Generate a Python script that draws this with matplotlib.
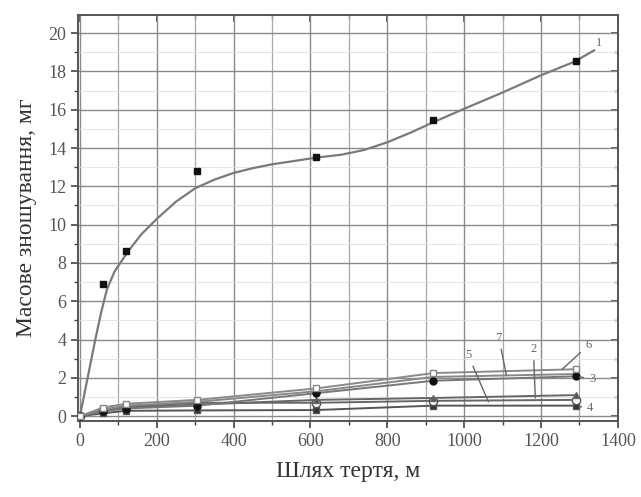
import matplotlib
matplotlib.use("Agg")
import matplotlib.pyplot as plt
from matplotlib.ticker import MultipleLocator

plt.rcParams['font.family'] = ['Liberation Serif', 'DejaVu Serif']

# measured points (mileage, m)
x_pts = [0, 60, 120, 305, 615, 920, 1290]
# series 1 measured points
s1_x = [60, 120, 305, 615, 920, 1290]
s1_y = [6.9, 8.6, 12.8, 13.55, 15.45, 18.55]
# series 1 fitted curve
fit1_x = [0, 20, 40, 55, 70, 90, 125, 160, 200, 250, 300, 350, 400, 450, 500, 550,
          615, 680, 740, 800, 860, 920, 1000, 1100, 1200, 1286, 1338]
fit1_y = [0, 2.0, 4.0, 5.4, 6.6, 7.55, 8.6, 9.5, 10.3, 11.2, 11.9, 12.35, 12.7, 12.95, 13.15, 13.3,
          13.5, 13.65, 13.9, 14.3, 14.8, 15.35, 16.05, 16.9, 17.8, 18.5, 19.1]

# low-wear series 2..7
s2 = [0, 0.30, 0.45, 0.60, 0.85, 0.95, 1.10]
s3 = [0, 0.25, 0.40, 0.55, 1.20, 1.85, 2.08]
s4 = [0, 0.15, 0.28, 0.30, 0.32, 0.55, 0.55]
s5 = [0, 0.30, 0.50, 0.70, 0.70, 0.80, 0.85]
s6 = [0, 0.45, 0.65, 0.85, 1.45, 2.25, 2.45]
s7 = [0, 0.35, 0.55, 0.75, 1.30, 2.05, 2.20]

labels = ['1', '2', '3', '4', '5', '6', '7']

fig = plt.figure(figsize=(6.41, 4.97), dpi=100)
ax = fig.add_axes([0.1217, 0.153, 0.8423, 0.817])

ax.set_xlim(-5, 1400)
ax.set_ylim(-0.25, 20.95)
ax.xaxis.set_major_locator(MultipleLocator(200))
ax.xaxis.set_minor_locator(MultipleLocator(100))
ax.yaxis.set_major_locator(MultipleLocator(2))
ax.yaxis.set_minor_locator(MultipleLocator(1))
ax.grid(which='major', color='#8a8a8a', lw=1.0)
ax.grid(which='minor', axis='x', color='#a8a8a8', lw=0.9)
ax.grid(which='minor', axis='y', color='#e0e0e0', lw=0.6)
ax.set_axisbelow(True)

lc = '#7a7a7a'
ax.plot(fit1_x, fit1_y, color=lc, lw=1.6, zorder=3, solid_joinstyle='round')
ax.plot(s1_x, s1_y, 's', color='#111111', ms=5, zorder=4)

ax.plot(x_pts, s4, '-s', color='#555555', lw=1.4, ms=4.5, mfc='#333333', zorder=3)
ax.plot(x_pts, s5, '-o', color='#666666', lw=1.4, ms=6, mfc='white', mec='#555555', zorder=3)
ax.plot(x_pts, s2, '-^', color='#666666', lw=1.4, ms=4, mfc='#555555', zorder=3)
ax.plot(x_pts, s7, '-v', color='#888888', lw=1.4, ms=4, mfc='#444444', zorder=3)
ax.plot(x_pts, s3, '-o', color='#777777', lw=1.4, ms=5, mfc='#111111', mec='#111111', zorder=3)
ax.plot(x_pts, s6, '-s', color='#8a8a8a', lw=1.4, ms=5, mfc='white', mec='#888888', zorder=3)

# curve labels with leader lines
ax.text(1343, 19.5, labels[0], fontsize=9, color='#666666', ha='left', va='center')
ann = dict(arrowstyle='-', color='#666666', lw=1.0, shrinkA=2, shrinkB=0)
ax.annotate(labels[1], xy=(1185, 0.95), xytext=(1180, 3.5), fontsize=9, color='#666666',
            ha='center', va='center', arrowprops=ann)
ax.annotate(labels[2], xy=(1300, 2.05), xytext=(1325, 1.95), fontsize=9, color='#666666',
            ha='left', va='center', arrowprops=ann)
ax.annotate(labels[3], xy=(1300, 0.5), xytext=(1320, 0.45), fontsize=9, color='#666666',
            ha='left', va='center', arrowprops=ann)
ax.annotate(labels[4], xy=(1063, 0.75), xytext=(1010, 3.2), fontsize=9, color='#666666',
            ha='center', va='center', arrowprops=ann)
ax.annotate(labels[5], xy=(1255, 2.45), xytext=(1315, 3.7), fontsize=9, color='#666666',
            ha='left', va='center', arrowprops=ann)
ax.annotate(labels[6], xy=(1110, 2.12), xytext=(1090, 4.1), fontsize=9, color='#666666',
            ha='center', va='center', arrowprops=ann)

for side in ['left', 'bottom', 'right', 'top']:
    ax.spines[side].set_color('#555555')
    ax.spines[side].set_linewidth(1.4)

ax.tick_params(which='both', direction='out', colors='#444444', labelcolor='#555555', labelsize=13)
ax.tick_params(which='major', length=5, width=1.2)
ax.tick_params(which='minor', length=3, width=1.0)
ax.tick_params(axis='x', which='both', bottom=True, top=False)
ax.tick_params(axis='y', which='both', left=True, right=False)
# inward ticks on top/right via secondary copies
axt = ax.secondary_xaxis('top')
axt.xaxis.set_major_locator(MultipleLocator(200))
axt.xaxis.set_minor_locator(MultipleLocator(100))
axt.tick_params(which='both', direction='in', labeltop=False, colors='#444444')
axt.tick_params(which='major', length=5, width=1.2)
axt.tick_params(which='minor', length=3, width=1.0)
axt.spines['top'].set_visible(False)
axr = ax.secondary_yaxis('right')
axr.yaxis.set_major_locator(MultipleLocator(2))
axr.yaxis.set_minor_locator(MultipleLocator(1))
axr.tick_params(which='both', direction='in', labelright=False, colors='#444444')
axr.tick_params(which='major', length=5, width=1.2)
axr.tick_params(which='minor', length=3, width=1.0)
axr.spines['right'].set_visible(False)

ax.set_xlabel('Шлях тертя, м', fontsize=17, color='#333333', labelpad=8)
ax.set_ylabel('Масове зношування, мг', fontsize=17, color='#333333', labelpad=8)

fig.savefig('out.png', dpi=100)
